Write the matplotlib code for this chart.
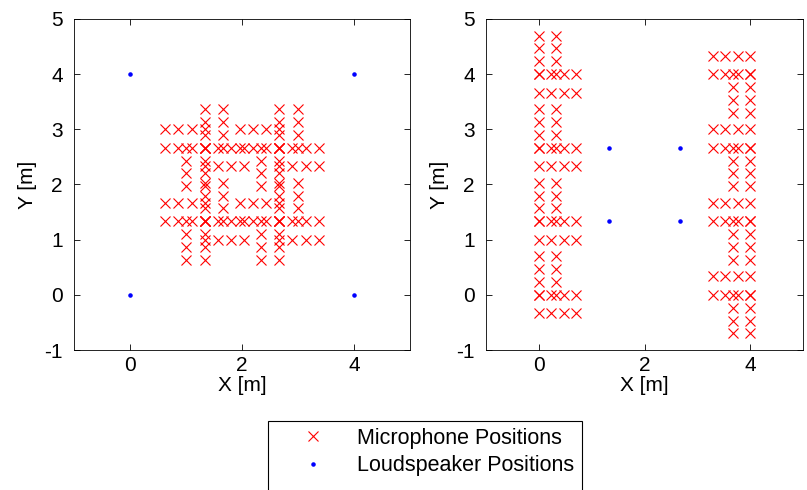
import numpy as np
import matplotlib.pyplot as plt
from matplotlib.patches import Rectangle

plt.rcParams['font.family'] = ['Liberation Sans', 'DejaVu Sans']
plt.rcParams['axes.unicode_minus'] = False

# each microphone arm = two parallel 4-element line arrays
element_offsets = [0.0, 0.233, 0.467, 0.7]
line_offsets = [0.0, 0.333]

# left room: four array centres, every centre has four arms
left_centres = [(1.333, 1.333), (1.333, 2.667), (2.667, 1.333), (2.667, 2.667)]
left_arms = ['up', 'left', 'down', 'right']
left_spk_x = [0, 4, 0, 4]
left_spk_y = [0, 0, 4, 4]

# right room: arrays along the two walls
right_west_centres = [(0, 0), (0, 1.333), (0, 2.667), (0, 4)]
right_west_arms = ['up', 'right']
right_east_centres = [(4, 0), (4, 1.333), (4, 2.667), (4, 4)]
right_east_arms = ['left', 'down']
right_spk_x = [1.333, 2.667, 1.333, 2.667]
right_spk_y = [1.333, 1.333, 2.667, 2.667]

# (along, across) unit vectors of an arm
arm_dirs = {'up': ((0, 1), (1, 0)),
            'left': ((-1, 0), (0, 1)),
            'down': ((0, -1), (-1, 0)),
            'right': ((1, 0), (0, -1))}


def mic_positions(centres, arms):
    xs, ys = [], []
    for cx, cy in centres:
        for arm in arms:
            (ax_, ay_), (bx, by) = arm_dirs[arm]
            for lo in line_offsets:
                for eo in element_offsets:
                    xs.append(cx + ax_ * eo + bx * lo)
                    ys.append(cy + ay_ * eo + by * lo)
    return xs, ys


lx, ly = mic_positions(left_centres, left_arms)
rx1, ry1 = mic_positions(right_west_centres, right_west_arms)
rx2, ry2 = mic_positions(right_east_centres, right_east_arms)
rx, ry = rx1 + rx2, ry1 + ry2

FS = 15
fig = plt.figure(figsize=(8.07, 4.90), dpi=100)
W, H = 807.0, 490.0
ax1 = fig.add_axes([74 / W, 1 - 350 / H, 336 / W, 331 / H])
ax2 = fig.add_axes([486 / W, 1 - 350 / H, 317 / W, 331 / H])

for ax, mx, my, sx, sy in [(ax1, lx, ly, left_spk_x, left_spk_y),
                           (ax2, rx, ry, right_spk_x, right_spk_y)]:
    ax.plot(mx, my, 'x', color='#ff0000', ms=7, mew=0.8, ls='none')
    ax.plot(sx, sy, '.', color='#0000ff', ms=4.5, ls='none')
    ax.set_xlim(-1, 5)
    ax.set_ylim(-1, 5)
    ax.set_xticks([0, 2, 4])
    ax.set_yticks(range(-1, 6))
    ax.tick_params(direction='in', top=True, right=True, labelsize=FS,
                   length=4, width=0.6, pad=4)
    ax.tick_params(axis='y', pad=8)
    for s in ax.spines.values():
        s.set_linewidth(0.6)
    ax.set_xlabel('X [m]', fontsize=FS, labelpad=1)
    ax.set_ylabel('Y [m]', fontsize=FS, labelpad=5)

# legend box, cut off by the figure bottom as in the original
fig.patches.append(Rectangle((268 / W, -0.05), (582 - 268) / W, (490 - 421) / H + 0.05,
                             transform=fig.transFigure, fill=False, lw=0.8,
                             edgecolor='black'))
h1, = ax1.plot([], [], 'x', color='#ff0000', ms=7, mew=0.8, ls='none')
h2, = ax1.plot([], [], '.', color='#0000ff', ms=4.5, ls='none')
fig.legend([h1, h2], ['Microphone Positions', 'Loudspeaker Positions'],
           loc='upper left', bbox_to_anchor=(297 / W, 1 - 428 / H),
           frameon=False, fontsize=15.5, borderpad=0, borderaxespad=0,
           handlelength=1.5, handletextpad=1.3, labelspacing=0.3)

fig.savefig('out.png', dpi=100)
